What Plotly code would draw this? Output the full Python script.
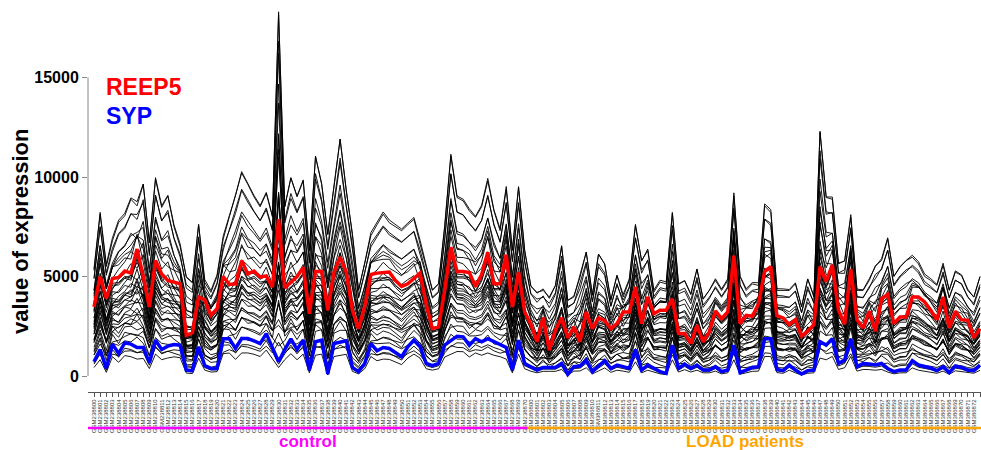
import plotly.graph_objects as go

# ---------------- data ----------------
reep5_control = [3470, 5000, 3900, 4900, 4950, 5270, 5170, 6380, 5000, 3470,
                 5800, 5130, 4800, 4700, 4630, 2050, 2170, 3970, 3830, 3050,
                 3380, 5000, 4600, 4630, 5800, 5130, 5270, 4970, 5030, 4470,
                 7880, 4430, 4720, 5000, 5450, 3130, 5250, 5250, 3300, 5200,
                 5970, 5220, 3300, 2380, 3500, 5100, 5170, 5200, 5220, 4800,
                 4500, 4630, 4900, 5170, 3600, 2380, 2470, 4300, 6470, 5250,
                 5250, 5200, 4500, 5100, 6220, 4630, 4630, 6100, 3470, 5220,
                 3220]
reep5_load = [2600, 1720, 2930, 1300, 2300, 2930, 1920, 2470, 1720, 3220,
              2380, 2930, 2780, 2380, 2630, 3220, 3220, 4470, 2630, 3970,
              3130, 3300, 3300, 3880, 2130, 2130, 1630, 2550, 1720, 2220,
              3270, 2880, 3220, 6050, 2630, 3050, 3000, 3630, 5250, 5500,
              3030, 2920, 2580, 2830, 2000, 2250, 2580, 5500, 4750, 5580,
              3300, 2600, 5380, 2830, 2420, 3250, 2250, 3880, 4100, 2630,
              2970, 2970, 3970, 3970, 3720, 3300, 2830, 3970, 2420, 3250,
              2830, 2800, 1920, 2380]

syp_control = [720, 1330, 380, 1600, 1130, 1670, 1600, 1430, 1430, 670,
               1800, 1330, 1500, 1580, 1550, 300, 270, 1470, 520, 380,
               380, 1870, 1870, 1380, 1880, 1880, 1770, 1630, 2130, 1470,
               720, 1330, 1870, 1330, 1800, 300, 1720, 1800, 100, 1630,
               1700, 1770, 430, 220, 630, 1630, 1270, 1430, 1380, 1200,
               970, 1470, 1800, 1470, 630, 520, 630, 1550, 1800, 2000,
               1970, 1550, 1880, 1720, 1880, 1720, 1600, 1430, 300, 1800,
               630]
syp_load = [450, 300, 430, 430, 430, 630, 80, 470, 500, 800,
            220, 500, 770, 380, 550, 470, 380, 1330, 300, 550,
            380, 220, 130, 1550, 380, 600, 380, 550, 300, 300,
            470, 220, 300, 1550, 170, 300, 430, 470, 1870, 1870,
            330, 270, 550, 300, 100, 270, 300, 1720, 1550, 1880,
            630, 800, 1870, 470, 630, 600, 550, 630, 380, 220,
            300, 300, 770, 550, 470, 400, 270, 470, 170, 500,
            430, 300, 270, 550]

# upper / lower envelopes of the cloud of other genes
upper_control = [5300, 8130, 5500, 6800, 7720, 8050, 8880, 8550, 9630, 6700,
                 9880, 8470, 9050, 7500, 6500, 5000, 4700, 7600, 4700, 4200,
                 5000, 6880, 8000, 9050, 10200, 9630, 9000, 8500, 9180, 8000,
                 18300, 8500, 9970, 9000, 9800, 6300, 11050, 9630, 7130, 9500,
                 11900, 9300, 7130, 4300, 5600, 7050, 7600, 8130, 7700, 7500,
                 7300, 7600, 7870, 6630, 5500, 4300, 4630, 7500, 11050, 8970,
                 8800, 8300, 7970, 8500, 9800, 8300, 7300, 9380, 6300, 9470,
                 6300]
upper_load = [4500, 4200, 4300, 3970, 4550, 6550, 3800, 3970, 5050, 6220,
              4050, 6130, 5630, 3800, 5050, 3970, 4800, 7550, 5800, 6300,
              4220, 4720, 4630, 8220, 4630, 4800, 4130, 5380, 3880, 4300,
              4800, 4300, 4800, 9050, 5000, 4300, 4630, 4550, 8550, 8220,
              4300, 4300, 4300, 4630, 3470, 4880, 3970, 12300, 8970, 8880,
              5630, 5800, 7970, 4300, 4300, 4800, 5550, 5800, 6880, 5000,
              5470, 5800, 5970, 5630, 5000, 4800, 4550, 5550, 4300, 5220,
              5050, 4300, 3970, 5000]
lower_control = [300, 600, 100, 700, 500, 750, 700, 600, 650, 250,
                 800, 600, 650, 700, 650, 80, 60, 650, 200, 120,
                 150, 800, 850, 600, 850, 850, 800, 700, 950, 650,
                 300, 600, 800, 600, 800, 100, 750, 800, 30, 700,
                 750, 800, 150, 60, 250, 700, 550, 600, 600, 500,
                 400, 650, 800, 650, 250, 200, 250, 700, 800, 900,
                 900, 700, 850, 750, 850, 750, 700, 600, 100, 800,
                 250]
lower_load = [150, 100, 150, 150, 150, 200, 30, 150, 150, 250,
              60, 150, 250, 100, 180, 150, 100, 450, 100, 180,
              120, 60, 40, 500, 120, 200, 120, 180, 100, 100,
              150, 60, 100, 500, 50, 100, 150, 150, 600, 600,
              100, 80, 180, 100, 30, 80, 100, 550, 500, 600,
              200, 250, 600, 150, 200, 200, 180, 200, 120, 60,
              100, 100, 250, 180, 150, 130, 80, 150, 50, 160,
              140, 100, 80, 180]

# composition of each background gene profile (share of lower, SYP, REEP5, upper shapes)
w_lower = [0.7, 0.3, 0.8, 0, 0.6, 0, 0.5, 0, 0, 0.4, 0, 0.3, 0, 0, 0.2, 0, 0.4, 0, 0.5, 0,
           0, 0.3, 0, 0.3, 0, 0, 0, 0, 0.2, 0, 0, 0, 0, 0, 0.1, 0, 0, 0, 0]
w_syp = [0.3, 0.7, 0, 1.0, 0, 0.8, 0, 0.6, 0.9, 0, 0.5, 0, 0.7, 0.4, 0.3, 0.3, 0, 0.5, 0, 0.2,
         0.6, 0, 0.1, 0, 0.3, 0, 0.5, 0, 0, 0, 0.3, 0, 0, 0, 0, 0, 0, 0, 0]
w_reep5 = [0, 0, 0, 0.1, 0.25, 0.25, 0, 0.4, 0, 0.45, 0.5, 0, 0, 0.6, 0.2, 0.7, 0, 0.2, 0.7, 0.8,
           0, 0.3, 0.9, 0, 0.3, 0.95, 0, 0.6, 0, 1.05, 0, 0.7, 0.5, 0.3, 0, 0.2, 0, 0.1, 0]
w_upper = [0, 0, 0.08, 0, 0, 0, 0.2, 0, 0.12, 0, 0, 0.3, 0.25, 0, 0.15, 0, 0.4, 0.2, 0, 0,
           0.38, 0.25, 0, 0.5, 0.25, 0, 0.48, 0.22, 0.62, 0.05, 0.65, 0.3, 0.45, 0.62, 0.8, 0.8, 0.92, 0.95, 1.0]

group_names = ["control", "LOAD patients"]
control_ids = ["GSM" + str(238800 + k) for k in range(len(reep5_control))]
load_ids = ["GSM" + str(386800 + k) for k in range(len(reep5_load))]

# ---------------- assemble ----------------
reep5 = reep5_control + reep5_load
syp = syp_control + syp_load
upper = upper_control + upper_load
lower = lower_control + lower_load
labels = control_ids + load_ids
n = len(reep5)
n_ctrl = len(reep5_control)
xs = list(range(n))

W, H = 981, 450
L, R, T, B = 88, 0, 0, 58
plot_w, plot_h = W - L - R, H - T - B
first_px, last_px = 94, 980
sp = (last_px - first_px) / (n - 1)
x_range = [-(first_px - L) / sp, (W - R - first_px) / sp]
y_range = [-804, 18894]


def py_to_paper(py):
    return (H - B - py) / plot_h


def px_to_paper(px):
    return (px - L) / plot_w


FONT = "Liberation Sans, Arial, Helvetica, sans-serif"

fig = go.Figure()
for g in range(len(w_lower)):
    vals = [w_lower[g] * lo + w_syp[g] * s + w_reep5[g] * r + w_upper[g] * u
            for lo, s, r, u in zip(lower, syp, reep5, upper)]
    fig.add_trace(go.Scatter(x=xs, y=vals, mode="lines",
                             line=dict(color="black", width=0.9),
                             hoverinfo="skip", showlegend=False))

fig.add_trace(go.Scatter(x=xs, y=syp, mode="lines", name="SYP",
                         line=dict(color="#0000FF", width=3.5), showlegend=False))
fig.add_trace(go.Scatter(x=xs, y=reep5, mode="lines", name="REEP5",
                         line=dict(color="#FF0000", width=3.5), showlegend=False))

fig.update_layout(
    width=W, height=H,
    margin=dict(l=L, r=R, t=T, b=B, pad=0),
    paper_bgcolor="white", plot_bgcolor="white",
    font=dict(family=FONT),
    xaxis=dict(range=x_range, tickmode="array", tickvals=xs, ticktext=labels,
               tickangle=-90, tickfont=dict(size=6, color="#333333", family=FONT),
               ticks="outside", ticklen=4, tickcolor="#555555", tickwidth=1,
               showline=True, linecolor="#555555", linewidth=1,
               showgrid=False, zeroline=False, automargin=False),
    yaxis=dict(range=y_range, tickmode="array", tickvals=[0, 5000, 10000, 15000],
               ticktext=["0", "5000", "10000", "15000"],
               tickfont=dict(size=16, color="black", family=FONT, weight="bold"),
               ticks="outside", ticklen=5, tickcolor="#888888", tickwidth=1,
               showline=False, showgrid=False, zeroline=False, automargin=False),
)

# Prism-style y axis line from 0 to 15000
fig.add_shape(type="line", xref="paper", yref="y", x0=0, x1=0, y0=0, y1=15000,
              line=dict(color="#888888", width=1))

# group bars
yb = py_to_paper(428)
fig.add_shape(type="line", xref="x", yref="paper", x0=x_range[0], x1=n_ctrl - 0.5,
              y0=yb, y1=yb, line=dict(color="#FF00FF", width=2.5))
fig.add_shape(type="line", xref="x", yref="paper", x0=n_ctrl - 0.5, x1=x_range[1],
              y0=yb, y1=yb, line=dict(color="#FFA500", width=2.5))

yt = py_to_paper(441)
fig.add_annotation(x=(x_range[0] + n_ctrl - 0.5) / 2, y=yt, xref="x", yref="paper",
                   text=group_names[0], showarrow=False, yanchor="middle",
                   font=dict(size=17, color="#FF00FF", family=FONT, weight="bold"))
fig.add_annotation(x=(n_ctrl - 0.5 + x_range[1]) / 2 - 1.5, y=yt, xref="x", yref="paper",
                   text=group_names[1], showarrow=False, yanchor="middle",
                   font=dict(size=17, color="#FFA500", family=FONT, weight="bold"))

fig.add_annotation(x=px_to_paper(20), y=py_to_paper(232), xref="paper", yref="paper",
                   text="value of expression", textangle=-90, showarrow=False,
                   xanchor="center", yanchor="middle",
                   font=dict(size=22, color="black", family=FONT, weight="bold"))

fig.add_annotation(x=px_to_paper(104), y=py_to_paper(87), xref="paper", yref="paper",
                   text="REEP5", showarrow=False, xanchor="left", yanchor="middle",
                   font=dict(size=23, color="#FF0000", family=FONT, weight="bold"))
fig.add_annotation(x=px_to_paper(104), y=py_to_paper(116), xref="paper", yref="paper",
                   text="SYP", showarrow=False, xanchor="left", yanchor="middle",
                   font=dict(size=23, color="#0000FF", family=FONT, weight="bold"))

fig.write_html("out.html",
               config={"displayModeBar": False},
               post_script="document.body.style.margin='0';"
                           "document.body.style.overflow='hidden';")
